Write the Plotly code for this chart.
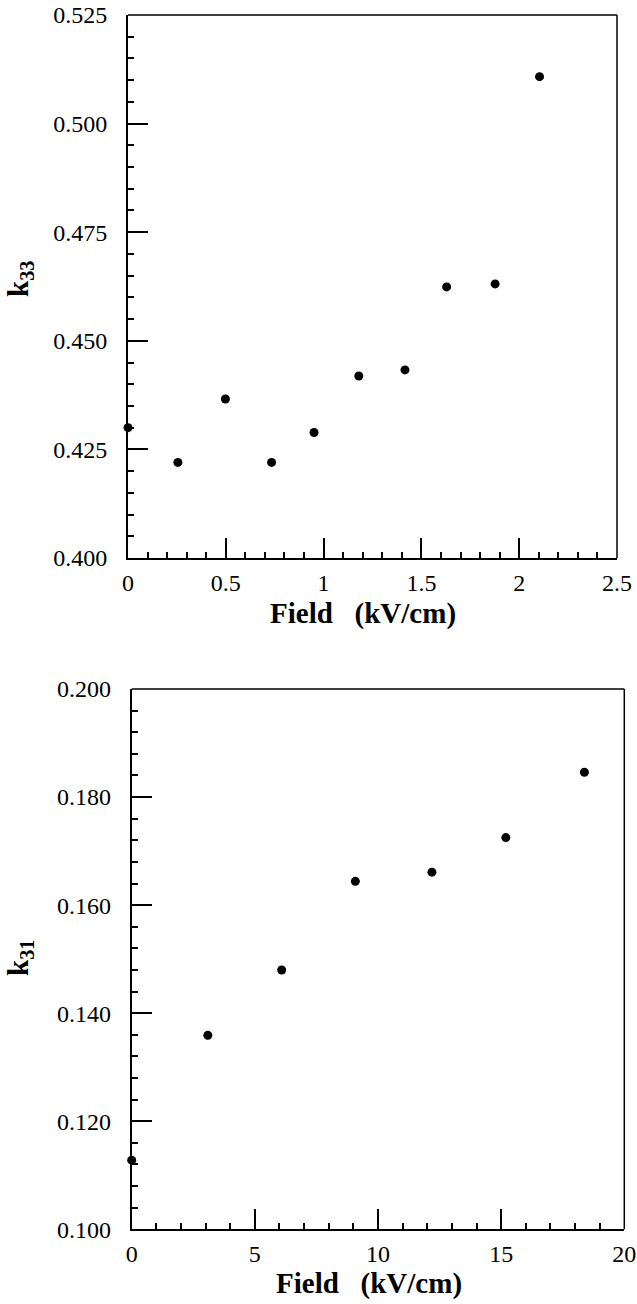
import plotly.graph_objects as go

# Top panel: k33 vs field
field_top = [0.0, 0.255, 0.498, 0.734, 0.951, 1.180, 1.416, 1.629, 1.877, 2.104]
k33 = [0.4300, 0.4220, 0.4366, 0.4220, 0.4289, 0.4419, 0.4433, 0.4624, 0.4631, 0.5108]

# Bottom panel: k31 vs field
field_bot = [0.0, 3.09, 6.09, 9.08, 12.19, 15.19, 18.38]
k31 = [0.1128, 0.1359, 0.1480, 0.1644, 0.1661, 0.1725, 0.1846]

x_title = "<b>Field\u00a0\u00a0\u00a0(kV/cm)</b>"
y_title_top = "<b>k<sub>33</sub></b>"
y_title_bot = "<b>k<sub>31</sub></b>"

W, H = 637, 1304
FONT = "Liberation Serif"

fig = go.Figure()
fig.add_trace(go.Scatter(x=field_top, y=k33, mode="markers",
                         marker=dict(color="black", size=9),
                         xaxis="x", yaxis="y", cliponaxis=False, showlegend=False))
fig.add_trace(go.Scatter(x=field_bot, y=k31, mode="markers",
                         marker=dict(color="black", size=9),
                         xaxis="x2", yaxis="y2", cliponaxis=False, showlegend=False))

def px(v):
    return v / W

def py(v):
    return 1 - v / H

tickfont = dict(family=FONT, size=24, color="black")

common = dict(showgrid=False, zeroline=False, showline=True, linecolor="black",
              linewidth=2, ticks="inside", tickcolor="black", tickwidth=1.5,
              ticklen=20, tickfont=tickfont, mirror=False, automargin=False)

fig.update_layout(
    template="none",
    width=W, height=H,
    margin=dict(l=0, r=0, t=0, b=0, autoexpand=False),
    paper_bgcolor="white", plot_bgcolor="white",
    font=dict(family=FONT, color="black"),
    xaxis=dict(domain=[px(128), px(617)], range=[0, 2.5], dtick=0.5, anchor="y",
               minor=dict(ticks="inside", ticklen=6, dtick=0.1, tickcolor="black", tickwidth=1.5),
               ticklabelstandoff=2, **common),
    yaxis=dict(domain=[py(558), py(15)], range=[0.4, 0.525], dtick=0.025, tickformat=".3f",
               anchor="x",
               minor=dict(ticks="inside", ticklen=6, dtick=0.005, tickcolor="black", tickwidth=1.5),
               ticklabelstandoff=14, **common),
    xaxis2=dict(domain=[px(131.7), px(624.3)], range=[0, 20], dtick=5, anchor="y2",
                minor=dict(ticks="inside", ticklen=6, dtick=1, tickcolor="black", tickwidth=1.5),
                ticklabelstandoff=2, **common),
    yaxis2=dict(domain=[py(1229.3), py(689)], range=[0.1, 0.2], dtick=0.02, tickformat=".3f",
                anchor="x2",
                minor=dict(ticks="inside", ticklen=6, dtick=0.004, tickcolor="black", tickwidth=1.5),
                ticklabelstandoff=14, **common),
)

# thinner top/right frame lines
for xr, yr in [("x", "y"), ("x2", "y2")]:
    fig.add_shape(type="line", xref=f"{xr} domain", yref=f"{yr} domain",
                  x0=0, x1=1, y0=1, y1=1, line=dict(color="black", width=1.5))
    fig.add_shape(type="line", xref=f"{xr} domain", yref=f"{yr} domain",
                  x0=1, x1=1, y0=0, y1=1, line=dict(color="black", width=1.5))

titlefont = dict(family=FONT, size=29, color="black")
fig.add_annotation(text=x_title, x=px(363), y=py(613), xref="paper", yref="paper",
                   showarrow=False, font=titlefont, xanchor="center", yanchor="middle")
fig.add_annotation(text=x_title, x=px(369), y=py(1283), xref="paper", yref="paper",
                   showarrow=False, font=titlefont, xanchor="center", yanchor="middle")
fig.add_annotation(text=y_title_top, x=px(20), y=py(279), xref="paper", yref="paper",
                   showarrow=False, font=titlefont, textangle=-90,
                   xanchor="center", yanchor="middle")
fig.add_annotation(text=y_title_bot, x=px(20), y=py(958), xref="paper", yref="paper",
                   showarrow=False, font=titlefont, textangle=-90,
                   xanchor="center", yanchor="middle")

fig.write_html("out.html",
               config={"displayModeBar": False},
               post_script="document.body.style.margin='0';document.body.style.overflow='hidden';")
